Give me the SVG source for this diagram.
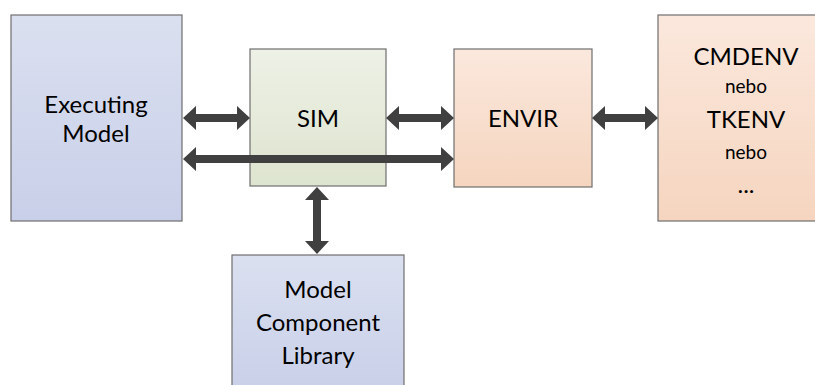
<svg xmlns="http://www.w3.org/2000/svg" width="815" height="385" viewBox="0 0 815 385">
  <defs>
    <linearGradient id="gBlue" x1="0" y1="0" x2="0" y2="1">
      <stop offset="0" stop-color="#dbe0f0"/>
      <stop offset="1" stop-color="#c8cfe8"/>
    </linearGradient>
    <linearGradient id="gGreen" x1="0" y1="0" x2="0" y2="1">
      <stop offset="0" stop-color="#eef1e6"/>
      <stop offset="1" stop-color="#dde4cf"/>
    </linearGradient>
    <linearGradient id="gOrange" x1="0" y1="0" x2="0" y2="1">
      <stop offset="0" stop-color="#fbe8dd"/>
      <stop offset="1" stop-color="#f5d5bf"/>
    </linearGradient>
  </defs>
  <style>
    .box { stroke: #6e6e6e; stroke-width: 1.2; }
    .t { font-family: Lato, "Open Sans", "Liberation Sans", sans-serif; fill: #000; text-anchor: middle; }
    .big { font-size: 24px; }
    .small { font-size: 19px; }
    .arrow { fill: #404040; }
  </style>

  <g id="executing-model">
    <rect class="box" x="11" y="15" width="171" height="206" fill="url(#gBlue)"/>
    <text class="t big" x="96" y="113">Executing</text>
    <text class="t big" x="96" y="142">Model</text>
  </g>

  <g id="sim">
    <rect class="box" x="250" y="49" width="136" height="137" fill="url(#gGreen)"/>
    <text class="t big" x="318" y="127">SIM</text>
  </g>

  <g id="envir">
    <rect class="box" x="454" y="49" width="138" height="138" fill="url(#gOrange)"/>
    <text class="t big" x="523" y="127">ENVIR</text>
  </g>

  <g id="envs">
    <rect class="box" x="658" y="15" width="170" height="206" fill="url(#gOrange)"/>
    <text class="t big" x="746" y="65">CMDENV</text>
    <text class="t small" x="746" y="93">nebo</text>
    <text class="t big" x="746" y="128">TKENV</text>
    <text class="t small" x="746" y="159">nebo</text>
    <text class="t big" x="746" y="193">...</text>
  </g>

  <g id="model-component-library">
    <rect class="box" x="232" y="255" width="172" height="140" fill="url(#gBlue)"/>
    <text class="t big" x="318" y="298">Model</text>
    <text class="t big" x="318" y="331">Component</text>
    <text class="t big" x="318" y="364">Library</text>
  </g>

  <g id="connectors">
    <path class="arrow" d="M183,118 L196,106 L196,114 L237,114 L237,106 L250,118 L237,130 L237,122 L196,122 L196,130 Z"/>
    <path class="arrow" d="M183,159 L196,147 L196,155 L441,155 L441,147 L454,159 L441,171 L441,163 L196,163 L196,171 Z"/>
    <path class="arrow" d="M386,118 L399,106 L399,114 L441,114 L441,106 L454,118 L441,130 L441,122 L399,122 L399,130 Z"/>
    <path class="arrow" d="M592,118 L605,106 L605,114 L645,114 L645,106 L658,118 L645,130 L645,122 L605,122 L605,130 Z"/>
    <path class="arrow" d="M317,187 L329,200 L321,200 L321,241 L329,241 L317,254 L305,241 L313,241 L313,200 L305,200 Z"/>
  </g>
</svg>
